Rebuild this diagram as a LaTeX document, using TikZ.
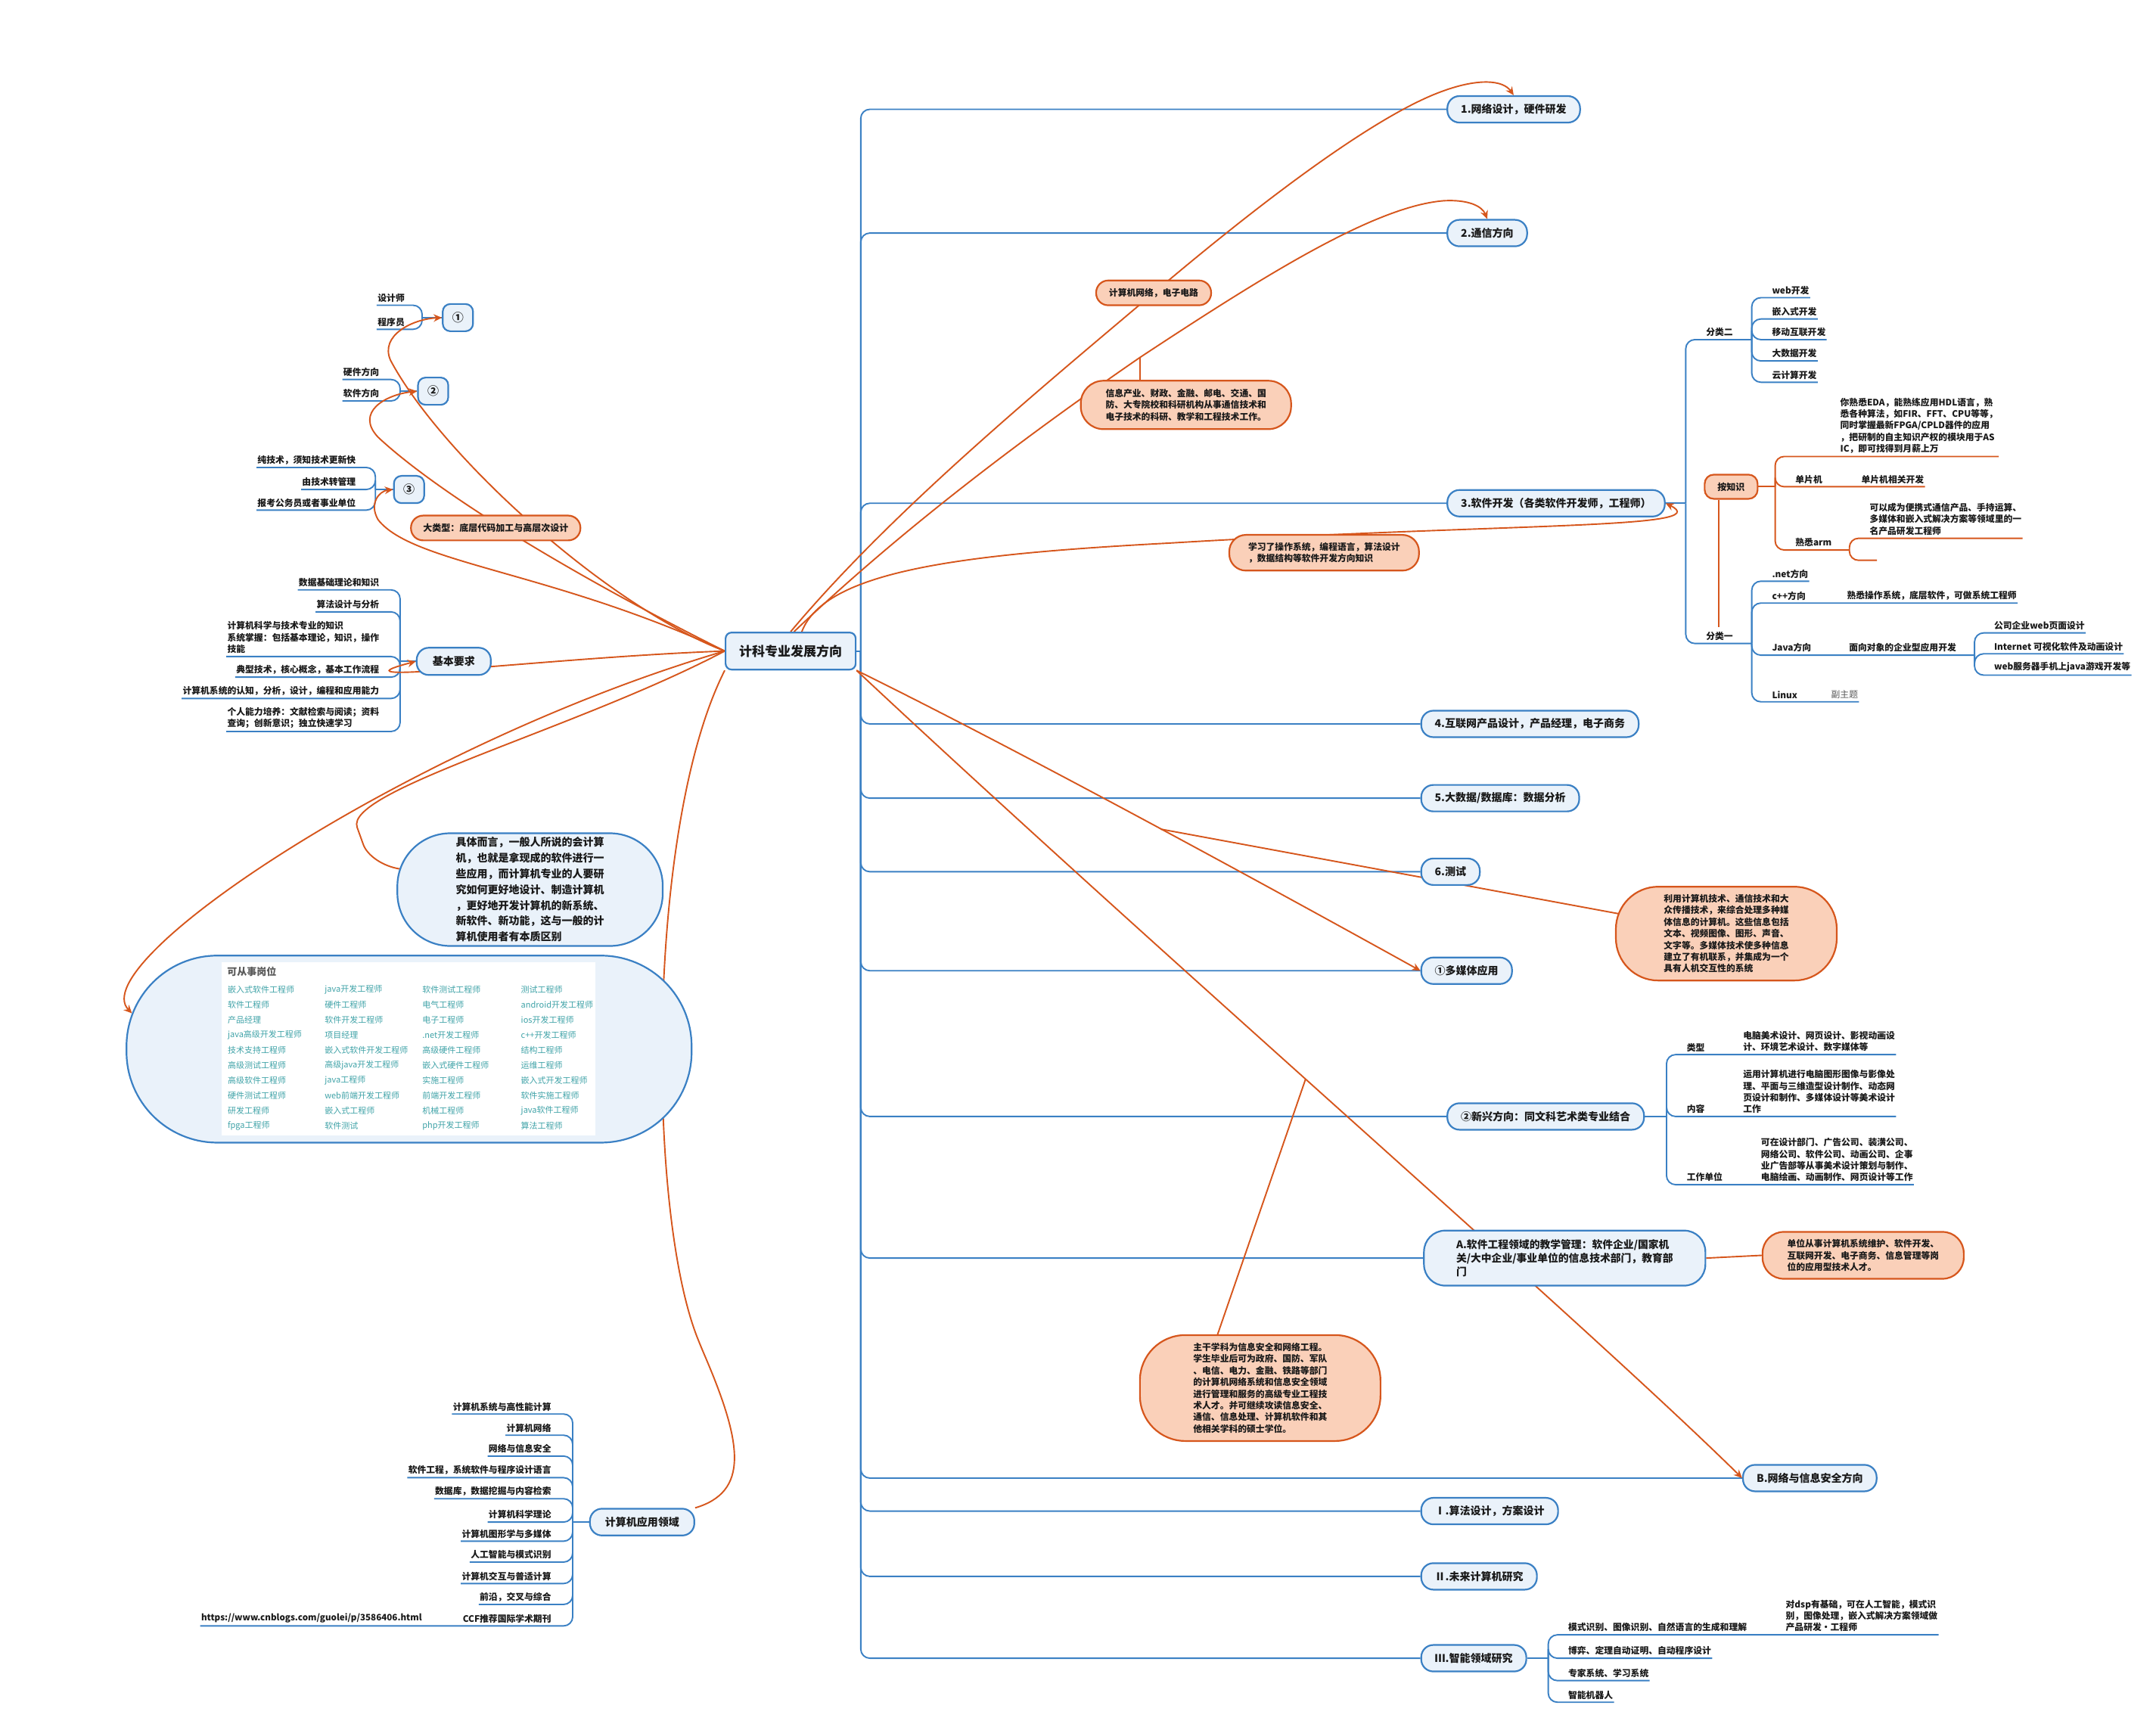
\documentclass[tikz,border=0pt]{standalone}
\usepackage{fontspec}
\setmainfont{Noto Sans CJK SC}
\usetikzlibrary{arrows.meta}
\definecolor{mblue}{RGB}{58,128,196}
\definecolor{mfill}{RGB}{234,242,250}
\definecolor{morange}{RGB}{214,86,28}
\definecolor{mpeach}{RGB}{250,208,185}
\definecolor{mteal}{RGB}{64,163,168}
\definecolor{mtext}{RGB}{25,25,25}
\definecolor{mgray}{RGB}{90,90,90}
\pgfdeclarelayer{back}
\pgfdeclarelayer{lines}
\pgfsetlayers{back,lines,main}
\newcommand\myfs[2]{\fontsize{#1}{#2}\selectfont}
\tikzset{
  blueln/.style={draw=mblue, line width=0.95pt, rounded corners=6pt},
  orln/.style={draw=morange, line width=0.95pt, rounded corners=6pt},
  orarr/.style={draw=morange, line width=0.95pt, -{Stealth[length=5.5pt,width=5pt]}},
  topic/.style={draw=mblue, fill=mfill, line width=1.1pt, rounded corners=8pt,
    font=\bfseries\myfs{7}{9}, text=mtext, inner xsep=9pt, inner ysep=0pt, minimum height=17.5pt},
  numbox/.style={draw=mblue, fill=mfill, line width=1.1pt, rounded corners=5pt,
    font=\bfseries\myfs{7.5}{9}, text=mtext, minimum width=20pt, minimum height=18pt, inner sep=0pt},
  item/.style={font=\bfseries\myfs{5.9}{7.7}, text=mtext, inner xsep=0.5pt, inner ysep=1.8pt, align=left},
  bub/.style={draw=morange, fill=mpeach, line width=1.1pt, align=left,
    font=\bfseries\myfs{5.9}{7.7}, text=mtext, inner sep=0pt},
  jobt/.style={font=\myfs{5.5}{6.5}, text=mteal, anchor=west, inner sep=0pt},
}
\begin{document}
\begin{tikzpicture}[x=0.9088pt,y=-0.9088pt]
\begin{pgfonlayer}{back}
\fill[white] (0,0) rectangle (1568,1256);
\end{pgfonlayer}
\useasboundingbox (0,0) rectangle (1568,1256);

%----- central and main branches
\node[topic, font=\bfseries\myfs{8.5}{10}, rounded corners=4pt, minimum width=85pt, minimum height=24.5pt] (c) at (575,473.5) {计科专业发展方向};
\coordinate (T) at (626,473.5);
\node[topic, anchor=west] (b1) at (1052,79.5) {1.网络设计，硬件研发};
\node[topic, anchor=west] (b2) at (1052,169.5) {2.通信方向};
\node[topic, anchor=west] (b3) at (1052,366) {3.软件开发（各类软件开发师，工程师）};
\node[topic, anchor=west] (b4) at (1033,526.5) {4.互联网产品设计，产品经理，电子商务};
\node[topic, anchor=west] (b5) at (1033,580.5) {5.大数据/数据库：数据分析};
\node[topic, anchor=west] (b6) at (1033,634) {6.测试};
\node[topic, anchor=west] (b7) at (1033,706) {①多媒体应用};
\node[topic, anchor=west] (b8) at (1052,812) {②新兴方向：同文科艺术类专业结合};
\node[topic, anchor=west, align=left, font=\bfseries\myfs{6.9}{9.2}, rounded corners=14pt, minimum width=186pt, minimum height=36.4pt, inner xsep=17pt] (b9) at (1035,915) {A.软件工程领域的教学管理：软件企业/国家机\\关/大中企业/事业单位的信息技术部门，教育部\\门};
\node[topic, anchor=west] (b10) at (1267,1075) {B.网络与信息安全方向};
\node[topic, anchor=west] (b11) at (1033,1099) {Ⅰ.算法设计，方案设计};
\node[topic, anchor=west] (b12) at (1033,1146.5) {Ⅱ.未来计算机研究};
\node[topic, anchor=west] (b13) at (1033,1206) {Ⅲ.智能领域研究};

%----- software cluster
\coordinate (J3R) at (1226,366);
\node[item, anchor=south west] (fl2) at (1240,247) {分类二};
\coordinate (J2R) at (1274,247);
\node[item, anchor=south west] (w1) at (1288,216.5) {web开发};
\node[item, anchor=south west] (w2) at (1288,232) {嵌入式开发};
\node[item, anchor=south west] (w3) at (1288,247) {移动互联开发};
\node[item, anchor=south west] (w4) at (1288,262.5) {大数据开发};
\node[item, anchor=south west] (w5) at (1288,278) {云计算开发};
\node[bub, rounded corners=6pt, minimum width=35pt, minimum height=16pt, font=\bfseries\myfs{6}{7.5}] (ak) at (1259,354) {按知识};
\coordinate (JK) at (1291,354);
\node[item, anchor=south west] (eda) at (1337.6,332) {你熟悉EDA，能熟练应用HDL语言，熟\\悉各种算法，如FIR、FFT、CPU等等，\\同时掌握最新FPGA/CPLD器件的应用\\，把研制的自主知识产权的模块用于AS\\IC，即可找得到月薪上万};
\node[item, anchor=south west] (dp) at (1305,354) {单片机};
\node[item, anchor=south west] (dpg) at (1353,354) {单片机相关开发};
\node[item, anchor=south west] (arm) at (1305,400) {熟悉arm};
\coordinate (JK2) at (1345,400);
\node[item, anchor=south west] (canbe) at (1359,391.5) {可以成为便携式通信产品、手持运算、\\多媒体和嵌入式解决方案等领域里的一\\名产品研发工程师};
\coordinate (armend) at (1365,407.5);
\coordinate (flt) at (1250,456);
\node[item, anchor=south west] (fl1) at (1240,468) {分类一};
\coordinate (J4R) at (1274,468);
\node[item, anchor=south west] (net) at (1288,422.7) {.net方向};
\node[item, anchor=south west] (cpp) at (1288,438.6) {c++方向};
\node[item, anchor=south west] (cppg) at (1342.5,438.6) {熟悉操作系统，底层软件，可做系统工程师};
\node[item, anchor=south west] (jv) at (1288,476.5) {Java方向};
\node[item, anchor=south west] (jvg) at (1344,476.5) {面向对象的企业型应用开发};
\coordinate (JJ) at (1436,476.5);
\node[item, anchor=south west] (jj1) at (1449.5,460.3) {公司企业web页面设计};
\node[item, anchor=south west] (jj2) at (1449.5,475.5) {Internet 可视化软件及动画设计};
\node[item, anchor=south west] (jj3) at (1449.5,491) {web服务器手机上java游戏开发等};
\node[item, anchor=south west] (lnx) at (1288,510.4) {Linux};
\node[item, anchor=south west, text=mgray, font=\myfs{5.9}{7.7}] (fuz) at (1331,510.4) {副主题};

%----- new direction cluster
\coordinate (JX) at (1212,812);
\node[item, anchor=south west] (lx) at (1226,767) {类型};
\node[item, anchor=south west] (lxd) at (1267,767) {电脑美术设计、网页设计、影视动画设\\计、环境艺术设计、数字媒体等};
\node[item, anchor=south west] (nr) at (1226,812) {内容};
\node[item, anchor=south west] (nrd) at (1267,812) {运用计算机进行电脑图形图像与影像处\\理、平面与三维造型设计制作、动态网\\页设计和制作、多媒体设计等美术设计\\工作};
\node[item, anchor=south west] (gz) at (1226,861.6) {工作单位};
\node[item, anchor=south west] (gzd) at (1280,861.6) {可在设计部门、广告公司、装潢公司、\\网络公司、软件公司、动画公司、企事\\业广告部等从事美术设计策划与制作、\\电脑绘画、动画制作、网页设计等工作};

%----- intelligent cluster
\coordinate (JS) at (1126,1206);
\node[item, anchor=south west] (s1) at (1139.8,1189) {模式识别、图像识别、自然语言的生成和理解};
\node[item, anchor=south west] (s1g) at (1298,1189) {对dsp有基础，可在人工智能，模式识\\别，图像处理，嵌入式解决方案领域做\\产品研发•工程师};
\node[item, anchor=south west] (s2) at (1139.8,1206) {博弈、定理自动证明、自动程序设计};
\node[item, anchor=south west] (s3) at (1139.8,1222.3) {专家系统、学习系统};
\node[item, anchor=south west] (s4) at (1139.8,1238) {智能机器人};

%----- bubbles
\node[bub, rounded corners=8pt, minimum width=76pt, minimum height=16.4pt] (bub1) at (839,213) {计算机网络，电子电路};
\node[bub, rounded corners=15pt, minimum width=139pt, minimum height=32pt] (bub2) at (862.5,294.5) {信息产业、财政、金融、邮电、交通、国\\防、大专院校和科研机构从事通信技术和\\电子技术的科研、教学和工程技术工作。};
\node[bub, rounded corners=11pt, minimum width=125.4pt, minimum height=23.6pt] (bub3) at (963,402) {学习了操作系统，编程语言，算法设计\\，数据结构等软件开发方向知识};
\node[bub, rounded corners=28pt, minimum width=146pt, minimum height=62pt] (bub4) at (1255.5,679) {利用计算机技术、通信技术和大\\众传播技术，来综合处理多种媒\\体信息的计算机。这些信息包括\\文本、视频图像、图形、声音、\\文字等。多媒体技术使多种信息\\建立了有机联系，并集成为一个\\具有人机交互性的系统};
\node[bub, rounded corners=14pt, minimum width=133pt, minimum height=31pt] (bub5) at (1355,913) {单位从事计算机系统维护、软件开发、\\互联网开发、电子商务、信息管理等岗\\位的应用型技术人才。};
\node[bub, rounded corners=30pt, minimum width=159pt, minimum height=70pt] (bub6) at (916.5,1009.5) {主干学科为信息安全和网络工程。\\学生毕业后可为政府、国防、军队\\、电信、电力、金融、铁路等部门\\的计算机网络系统和信息安全领域\\进行管理和服务的高级专业工程技\\术人才。并可继续攻读信息安全、\\通信、信息处理、计算机软件和其\\他相关学科的硕士学位。};
\node[bub, rounded corners=8pt, minimum width=112pt, minimum height=16.4pt, font=\bfseries\myfs{6}{7.5}] (bub7) at (360.5,384) {大类型：底层代码加工与高层次设计};

%----- left clusters
\node[numbox] (n1) at (333,231) {①};
\coordinate (J1) at (307,231);
\node[item, anchor=south east] (i11) at (295,222) {设计师};
\node[item, anchor=south east] (i12) at (295,239.5) {程序员};
\node[numbox] (n2) at (315,284.5) {②};
\coordinate (J2) at (291,284.5);
\node[item, anchor=south east] (i21) at (276.5,276) {硬件方向};
\node[item, anchor=south east] (i22) at (276.5,291.6) {软件方向};
\node[numbox] (n3) at (297.5,356) {③};
\coordinate (J3) at (273,356);
\node[item, anchor=south east] (i31) at (259.5,340) {纯技术，须知技术更新快};
\node[item, anchor=south east] (i32) at (259.5,356) {由技术转管理};
\node[item, anchor=south east] (i33) at (259.5,371) {报考公务员或者事业单位};

\node[topic, minimum width=49pt, minimum height=18pt, inner xsep=0pt] (nb) at (330,481) {基本要求};
\coordinate (JB) at (291,481);
\node[item, anchor=south east] (k1) at (276.5,429) {数据基础理论和知识};
\node[item, anchor=south east] (k2) at (276.5,445) {算法设计与分析};
\node[item, anchor=south east] (k3) at (276.5,477.5) {计算机科学与技术专业的知识\\系统掌握：包括基本理论，知识，操作\\技能};
\node[item, anchor=south east] (k4) at (276.5,492.5) {典型技术，核心概念，基本工作流程};
\node[item, anchor=south east] (k5) at (276.5,508) {计算机系统的认知，分析，设计，编程和应用能力};
\node[item, anchor=south east] (k6) at (276.5,532) {个人能力培养：文献检索与阅读；资料\\查询；创新意识；独立快速学习};

\node[draw=mblue, fill=mfill, line width=1.1pt, rounded corners=35pt, minimum width=175.4pt, minimum height=74.5pt, align=left, inner sep=0pt, font=\bfseries\myfs{7}{10.4}, text=mtext] (jt) at (385.5,647) {具体而言，一般人所说的会计算\\机，也就是拿现成的软件进行一\\些应用，而计算机专业的人要研\\究如何更好地设计、制造计算机\\，更好地开发计算机的新系统、\\新软件、新功能，这与一般的计\\算机使用者有本质区别};
\coordinate (jtin) at (291,632);

\node[draw=mblue, fill=mfill, line width=1.1pt, rounded corners=60pt, minimum width=373.5pt, minimum height=123.6pt, inner sep=0pt] (job) at (297.5,763) {};
\node[fill=white, minimum width=247.2pt, minimum height=114.5pt, inner sep=0pt] (jw) at (297,763) {};
\node[anchor=west, inner sep=0pt, font=\bfseries\myfs{6.5}{8}, text=mgray] (jtitle) at (165,706.5) {可从事岗位};
\foreach \jn [count=\r] in {嵌入式软件工程师, 软件工程师, 产品经理, java高级开发工程师, 技术支持工程师, 高级测试工程师, 高级软件工程师, 硬件测试工程师, 研发工程师, fpga工程师}
  \node[jobt] (ja\r) at (165.4,708.8+11*\r) {\jn};
\foreach \jn [count=\r] in {java开发工程师, 硬件工程师, 软件开发工程师, 项目经理, 嵌入式软件开发工程师, 高级java开发工程师, java工程师, web前端开发工程师, 嵌入式工程师, 软件测试}
  \node[jobt] (jb\r) at (236,708.8+11*\r) {\jn};
\foreach \jn [count=\r] in {软件测试工程师, 电气工程师, 电子工程师, .net开发工程师, 高级硬件工程师, 嵌入式硬件工程师, 实施工程师, 前端开发工程师, 机械工程师, php开发工程师}
  \node[jobt] (jc\r) at (307,708.8+11*\r) {\jn};
\foreach \jn [count=\r] in {测试工程师, android开发工程师, ios开发工程师, c++开发工程师, 结构工程师, 运维工程师, 嵌入式开发工程师, 软件实施工程师, java软件工程师, 算法工程师}
  \node[jobt] (jd\r) at (378.7,708.8+11*\r) {\jn};

\node[topic, minimum width=69pt, minimum height=17.7pt, inner xsep=0pt] (na) at (467,1107) {计算机应用领域};
\coordinate (JA) at (416.5,1107);
\foreach \jn/\yy [count=\i] in {计算机系统与高性能计算/1028.4, 计算机网络/1043.8, 网络与信息安全/1059, 软件工程，系统软件与程序设计语言/1074.7, 数据库，数据挖掘与内容检索/1090, 计算机科学理论/1107, 计算机图形学与多媒体/1120.9, 人工智能与模式识别/1136.1, 计算机交互与普适计算/1151.7, 前沿，交叉与综合/1166.9, CCF推荐国际学术期刊/1182.5}
  \node[item, anchor=south east] (ya\i) at (401.6,\yy) {\jn};
\node[item, anchor=south west, font=\bfseries\myfs{5.8}{7}] (url) at (145.6,1182.5) {https://www.cnblogs.com/guolei/p/3586406.html};

%===== connectors
\begin{pgfonlayer}{lines}
\draw[blueln] (c.east) -- (T);
\foreach \b in {b1,b2,b3,b4,b5,b6,b7,b8,b9,b10,b11,b12,b13} \draw[blueln] (T) |- (\b.west);

\draw[blueln] (b3.east) -- (J3R);
\draw[blueln] (J3R) |- (J2R);
\draw[blueln] (J3R) |- (J4R);
\foreach \w in {w1,w2,w3,w4,w5} \draw[blueln] (J2R) |- (\w.south east);
\draw[orln] (ak.east) -- (JK);
\draw[orln] (JK) |- (eda.south east);
\draw[orln] (JK) |- (dpg.south east);
\draw[orln] (JK) |- (JK2);
\draw[orln] (JK2) |- (canbe.south east);
\draw[orln] (JK2) |- (armend);
\draw[orln] (ak.south -| flt) -- (flt);
\foreach \w in {net,cppg,fuz} \draw[blueln] (J4R) |- (\w.south east);
\draw[blueln] (J4R) |- (JJ);
\foreach \w in {jj1,jj2,jj3} \draw[blueln] (JJ) |- (\w.south east);

\draw[blueln] (b8.east) -- (JX);
\foreach \w in {lxd,nrd,gzd} \draw[blueln] (JX) |- (\w.south east);
\draw[blueln] (b13.east) -- (JS);
\foreach \w in {s1g,s2,s3,s4} \draw[blueln] (JS) |- (\w.south east);
\draw[orln] (b9.east) -- (bub5.west);

\draw[blueln] (n1.west) -- (J1);
\foreach \w in {i11,i12} \draw[blueln] (J1) |- (\w.south west);
\draw[blueln] (n2.west) -- (J2);
\foreach \w in {i21,i22} \draw[blueln] (J2) |- (\w.south west);
\draw[blueln] (n3.west) -- (J3);
\foreach \w in {i31,i32,i33} \draw[blueln] (J3) |- (\w.south west);
\draw[blueln] (nb.west) -- (JB);
\foreach \w in {k1,k2,k3,k4,k5,k6} \draw[blueln] (JB) |- (\w.south west);
\draw[blueln] (na.west) -- (JA);
\foreach \i in {1,...,10} \draw[blueln] (JA) |- (ya\i.south west);
\draw[blueln] (JA) |- (url.south west);

% relationship lines
\draw[orarr] (c.north) .. controls (650,370) and (760,280) .. (845,208) .. controls (940,128) and (1010,80) .. (1050,66) .. controls (1075,57) and (1093,58) .. (b1.north);
\draw[orarr] (c.80) .. controls (640,400) and (720,335) .. (829,260) .. controls (920,200) and (1000,150) .. (1050,146) .. controls (1068,145) and (1078,150) .. (b2.north);
\coordinate (sB) at (829,260);
\draw[orln] (sB) -- (bub2.north -| sB);
\draw[orarr] (c.60) .. controls (600,415) and (700,403) .. (850,395) .. controls (1100,380) and (1250,385) .. (b3.east);
\draw[orarr] (c.south east) .. controls (750,550) and (950,660) .. (b7.west);
\coordinate (sD) at (844,603);
\draw[orln] (sD) -- (bub4.center);
\draw[orarr] (c.south east) .. controls (850,700) and (1150,960) .. (b10.west);
\coordinate (sE) at (949.5,784.8);
\coordinate (q6) at (885,972);
\draw[orln] (sE) -- (q6);

\draw[orarr] (c.west) .. controls (440,440) and (320,330) .. (284,262) .. controls (276,244) and (300,232) .. (n1.west);
\draw[orarr] (c.west) .. controls (420,420) and (320,360) .. (275,318) .. controls (258,300) and (280,287) .. (n2.west);
\draw[orarr] (c.west) .. controls (400,415) and (300,410) .. (275,378) .. controls (268,366) and (276,357) .. (n3.west);
\draw[orarr] (c.west) .. controls (400,478) and (230,500) .. (nb.west);
\coordinate (jin) at (96,737);
\draw[orarr] (c.west) .. controls (300,540) and (60,700) .. (jin);
\draw[orln] (c.west) .. controls (420,530) and (250,575) .. (262,608) .. controls (267,622) and (278,630) .. (jtin);
\draw[orln] (c.south west) .. controls (470,600) and (470,880) .. (510,980) .. controls (540,1050) and (545,1085) .. (na.north east);
\end{pgfonlayer}
\end{tikzpicture}
\end{document}
